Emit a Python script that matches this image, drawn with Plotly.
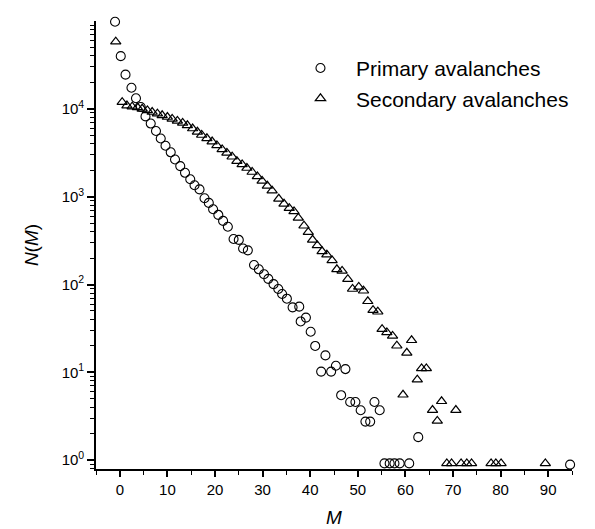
import plotly.graph_objects as go

# ---- data ----
prim_M = [-1.0, 0.2, 1.2, 2.45, 3.4, 4.4, 5.4, 6.5, 7.6, 8.6, 9.6, 10.7, 11.6, 12.7, 13.7,
          14.8, 15.7, 16.75, 17.8, 18.7, 19.6, 20.7, 21.7, 22.7, 23.9, 25.0, 25.9, 26.9, 28.2,
          29.2, 30.3, 31.2, 32.3, 33.3, 34.1, 35.1, 36.3, 37.7, 38.0, 39.1, 40.1, 41.05, 42.3,
          43.2, 44.4, 45.4, 46.5, 47.4, 48.4, 49.5, 50.6, 51.6, 52.6, 53.5, 54.6, 55.6, 56.7,
          57.7, 58.8, 60.8, 62.7, 94.6]
prim_N = [98000, 39800, 24500, 17400, 13200, 10500, 8200, 6800, 5600, 4600, 3800, 3200, 2650,
          2230, 1870, 1580, 1350, 1210, 960, 850, 720, 620, 530, 455, 330, 322, 257, 245, 167,
          149, 131, 116, 101, 89, 78, 69, 55, 56, 38, 42, 29, 20, 10.2, 15.6, 10.2, 11.9, 5.5,
          10.9, 4.6, 4.6, 3.7, 2.75, 2.75, 4.6, 3.7, 0.92, 0.92, 0.92, 0.92, 0.92, 1.83, 0.89]

sec_M = [-0.85, 0.5, 1.5, 2.6, 3.7, 4.7, 5.8, 6.8, 7.9, 8.9, 10.0, 11.0, 12.1, 13.2, 14.2,
         15.3, 16.3, 17.2, 18.3, 19.4, 20.4, 21.5, 22.5, 23.6, 24.6, 25.7, 26.7, 27.8, 28.9,
         29.9, 31.0, 32.0, 33.4, 34.5, 35.6, 36.6, 37.5, 38.7, 39.6, 40.5, 41.5, 42.5, 43.5,
         44.6, 45.6, 46.7, 47.9, 48.9, 50.2, 51.2, 52.1, 53.2, 54.2, 55.1, 56.1, 57.3, 58.2,
         59.5, 60.3, 61.3, 62.5, 63.4, 64.4, 65.7, 66.7, 67.6, 68.7, 69.7, 70.6, 71.7, 72.9,
         73.9, 78.0, 79.0, 80.1, 89.4]
sec_N = [58200, 11900, 10900, 10600, 10400, 10000, 9600, 9200, 8800, 8440, 8070, 7670, 7280,
         6920, 6490, 5970, 5480, 5040, 4620, 4240, 3830, 3450, 3150, 2850, 2540, 2330, 2120,
         1910, 1700, 1510, 1330, 1170, 945, 830, 740, 680, 573, 467, 394, 323, 279, 239, 219,
         188, 149, 143, 115, 89, 94, 85, 64.5, 51, 49, 31, 28.5, 26, 20.1, 5.56, 16.7, 23.2,
         8.27, 11.1, 11.1, 3.72, 2.80, 4.69, 0.92, 0.92, 3.72, 0.92, 0.92, 0.92, 0.92, 0.92,
         0.92, 0.92]

x_tickvals = [0, 10, 20, 30, 40, 50, 60, 70, 80, 90]
y_tickvals = [1, 10, 100, 1000, 10000]
y_ticktext = ["10<sup>0</sup>", "10<sup>1</sup>", "10<sup>2</sup>", "10<sup>3</sup>", "10<sup>4</sup>"]

FONT = "Liberation Sans, Arial, sans-serif"

y_minor = [0.8, 0.9]
for d in range(0, 5):
    for k in range(2, 10):
        y_minor.append(k * 10 ** d)

fig = go.Figure()
fig.add_trace(go.Scatter(
    x=prim_M, y=prim_N, mode="markers", name="Primary avalanches",
    marker=dict(symbol="circle-open", size=9, color="black", line=dict(width=1.1)),
    cliponaxis=False,
))
fig.add_trace(go.Scatter(
    x=sec_M, y=sec_N, mode="markers", name="Secondary avalanches",
    marker=dict(symbol="triangle-up-open", size=9, color="black", line=dict(width=1.2)),
    cliponaxis=False,
))

fig.update_layout(
    width=595, height=529,
    margin=dict(l=88, r=31, t=13, b=61),
    paper_bgcolor="white", plot_bgcolor="white",
    font=dict(family=FONT, color="black", size=15),
    showlegend=True,
    legend=dict(
        x=0.397, y=0.94, xanchor="left", yanchor="top",
        font=dict(family=FONT, size=21, color="black"),
        bgcolor="rgba(0,0,0,0)", itemwidth=61, tracegroupgap=0,
    ),
    xaxis=dict(
        range=[-5, 95], showgrid=False, zeroline=False,
        showline=True, linecolor="black", linewidth=1.6, mirror=False,
        ticks="outside", ticklen=6, tickwidth=1.5, tickcolor="black",
        tickmode="array", tickvals=x_tickvals,
        tickfont=dict(family=FONT, size=15),
        minor=dict(ticks="outside", ticklen=4, tickwidth=1.3, tickcolor="black",
                   tickmode="array", tickvals=[-5, 5, 15, 25, 35, 45, 55, 65, 75, 85, 95]),
        title=dict(text="<i>M</i>", font=dict(family=FONT, size=19), standoff=14),
    ),
    yaxis=dict(
        type="log", range=[-0.1, 5.0], showgrid=False, zeroline=False,
        showline=True, linecolor="black", linewidth=1.6,
        ticks="outside", ticklen=7, tickwidth=1.5, tickcolor="black",
        tickmode="array", tickvals=y_tickvals, ticktext=y_ticktext,
        tickfont=dict(family=FONT, size=15),
        minor=dict(ticks="outside", ticklen=4, tickwidth=1.2, tickcolor="black",
                   tickmode="array", tickvals=y_minor),
        title=dict(text="<i>N</i>(<i>M</i>)", font=dict(family=FONT, size=19), standoff=18),
    ),
)

fig.write_html("out.html")
